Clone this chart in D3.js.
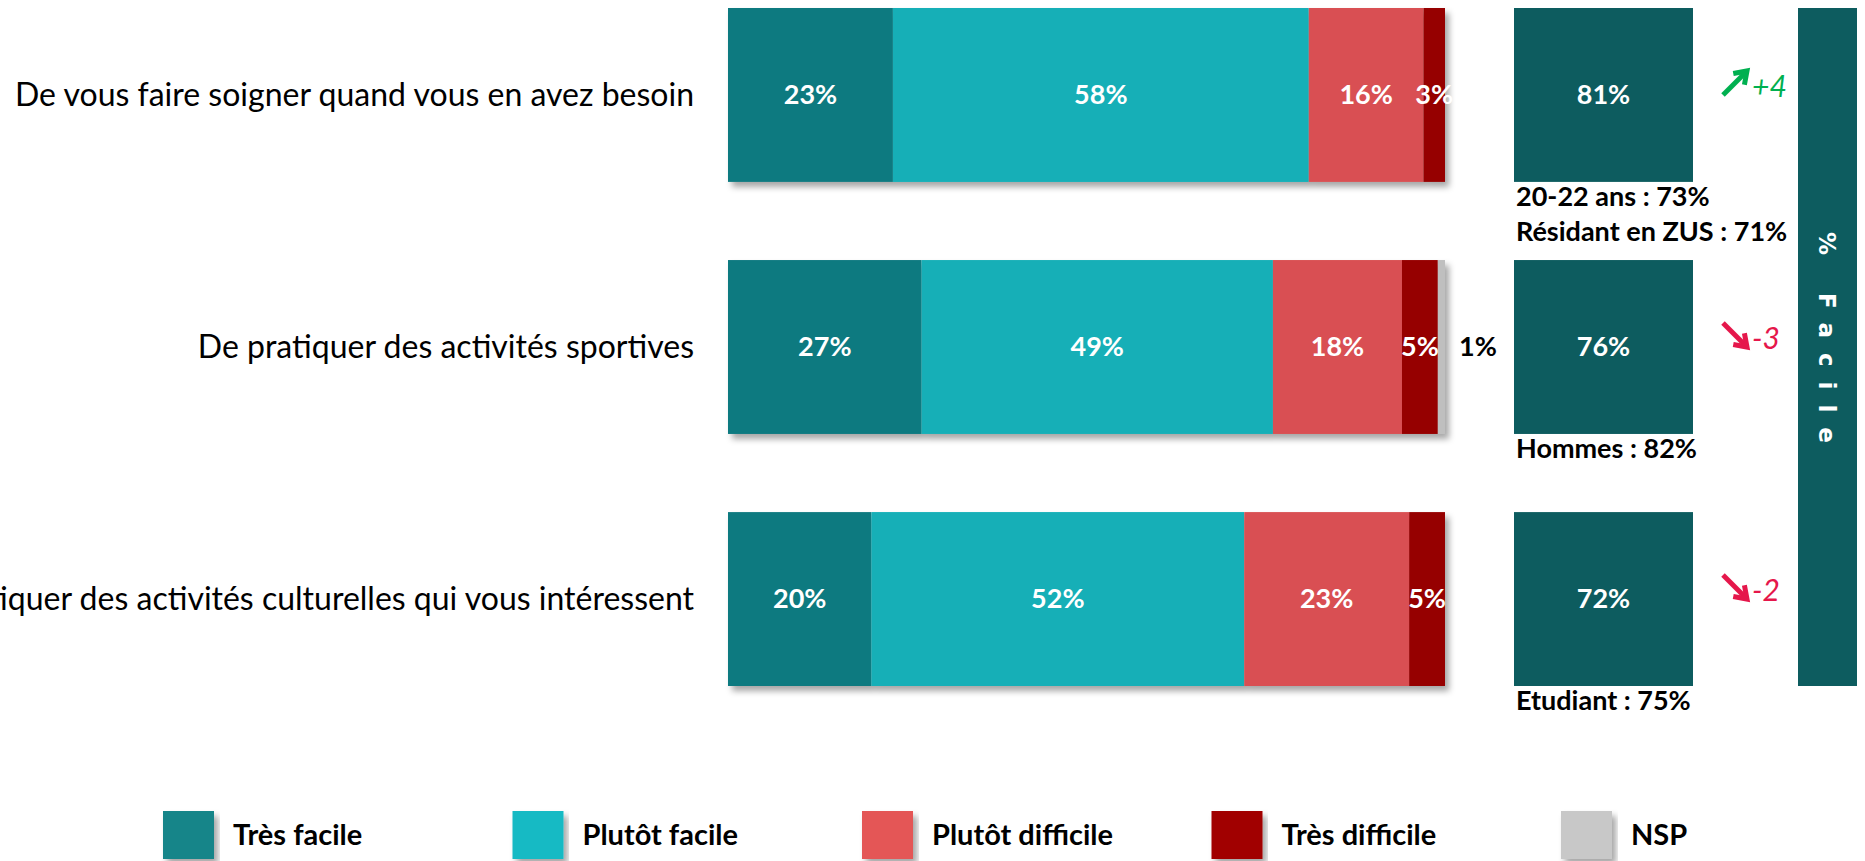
<!DOCTYPE html>
<html>
<head>
<meta charset="utf-8">
<script src="https://cdn.jsdelivr.net/npm/d3@7/dist/d3.min.js"></script>
<style>
  body { margin: 0; background: #fff; }
  svg text { font-family: Lato, "Open Sans", sans-serif; }
</style>
</head>
<body>
<svg id="chart"></svg>
<script>
// data
const categories = [
    "De vous faire soigner quand vous en avez besoin",
    "De pratiquer des activités sportives",
    "De pratiquer des activités culturelles qui vous intéressent"
];
const series = ["Très facile", "Plutôt facile", "Plutôt difficile", "Très difficile", "NSP"];
const tresFacile = [23, 27, 20];
const plutotFacile = [58, 49, 52];
const plutotDifficile = [16, 18, 23];
const tresDifficile = [3, 5, 5];
const nsp = [0, 1, 0];
const totalFacile = [81, 76, 72];
const evolution = [4, -3, -2];
const notes = [["20-22 ans : 73%", "Résidant en ZUS : 71%"], ["Hommes : 82%"], ["Etudiant : 75%"]];

const barColors = ["#0F7A80", "#13AFB7", "#D94F52", "#960000", "#BFBFBF"];
const legendColors = ["#138589", "#17BAC4", "#E45656", "#A10505", "#C8C8C8"];
const boxColor = "#0D5C5F";

var width = 1865, height = 861;

var svg = d3.select("#chart")
    .attr("width", width)
    .attr("height", height);

// soft shadow like the office export
var defs = svg.append("defs");
defs.append("filter")
    .attr("id", "shadow")
    .attr("x", "-5%").attr("y", "-5%")
    .attr("width", "115%").attr("height", "120%")
    .append("feDropShadow")
    .attr("dx", 4).attr("dy", 5)
    .attr("stdDeviation", 3)
    .attr("flood-color", "#000")
    .attr("flood-opacity", 0.35);

// rows for the stack
var rows = categories.map((c, i) => ({
    cat: c,
    "Très facile": tresFacile[i],
    "Plutôt facile": plutotFacile[i],
    "Plutôt difficile": plutotDifficile[i],
    "Très difficile": tresDifficile[i],
    "NSP": nsp[i]
}));

var stack = d3.stack().keys(series);
var stacked = stack(rows);

var x = d3.scaleLinear().domain([0, 100]).range([728, 1445]);
var y = d3.scaleBand().domain(categories).range([8, 686]).paddingInner(0.31);
var color = d3.scaleOrdinal().domain(series).range(barColors);

// category labels on the left
svg.append("g").selectAll("text")
    .data(categories)
    .join("text")
    .attr("x", 694)
    .attr("y", d => y(d) + y.bandwidth() / 2)
    .attr("dy", "0.35em")
    .attr("text-anchor", "end")
    .style("font-size", "32px")
    .style("fill", "#000")
    .text(d => d);

// stacked bars, one group per category so the shadow goes round the whole bar
var bars = svg.append("g").selectAll("g")
    .data(rows)
    .join("g")
    .attr("filter", "url(#shadow)");

bars.selectAll("rect")
    .data((d, i) => stacked.map(s => ({key: s.key, v0: s[i][0], v1: s[i][1], cat: d.cat})))
    .join("rect")
    .attr("x", d => x(d.v0))
    .attr("y", d => y(d.cat))
    .attr("width", d => x(d.v1) - x(d.v0))
    .attr("height", y.bandwidth())
    .attr("fill", d => color(d.key));

// segment labels
var segs = [];
stacked.forEach(s => s.forEach((p, i) => segs.push({key: s.key, v0: p[0], v1: p[1], cat: categories[i]})));

svg.append("g").selectAll("text")
    .data(segs.filter(d => d.v1 - d.v0 > 0))
    .join("text")
    .attr("x", d => (d.v1 - d.v0) >= 2 ? (x(d.v0) + x(d.v1)) / 2 : x(d.v1) + 14)
    .attr("y", d => y(d.cat) + y.bandwidth() / 2)
    .attr("dy", "0.35em")
    .attr("text-anchor", d => (d.v1 - d.v0) >= 2 ? "middle" : "start")
    .style("font-size", "27px")
    .style("font-weight", "bold")
    .style("fill", d => (d.v1 - d.v0) >= 2 ? "#fff" : "#000")
    .text(d => (d.v1 - d.v0) + "%");

// total "% facile" boxes
var boxX = 1514, boxW = 179;
var boxes = svg.append("g").selectAll("g")
    .data(categories)
    .join("g");

boxes.append("rect")
    .attr("x", boxX)
    .attr("y", d => y(d))
    .attr("width", boxW)
    .attr("height", y.bandwidth())
    .attr("fill", boxColor);

boxes.append("text")
    .attr("x", boxX + boxW / 2)
    .attr("y", d => y(d) + y.bandwidth() / 2)
    .attr("dy", "0.35em")
    .attr("text-anchor", "middle")
    .style("font-size", "27px")
    .style("font-weight", "bold")
    .style("fill", "#fff")
    .text((d, i) => totalFacile[i] + "%");

// sub-group notes under each box
boxes.each(function(d, i) {
    d3.select(this).selectAll("text.note")
        .data(notes[i])
        .join("text")
        .attr("class", "note")
        .attr("x", boxX + 2)
        .attr("y", (n, j) => y(d) + y.bandwidth() + 24 + j * 35)
        .style("font-size", "27px")
        .style("font-weight", "bold")
        .style("fill", "#000")
        .text(n => n);
});

// evolution arrows
var evo = svg.append("g").selectAll("g")
    .data(categories)
    .join("g")
    .attr("transform", d => `translate(1723,${y(d) + y.bandwidth() / 2})`);

evo.each(function(d, i) {
    var g = d3.select(this);
    var up = evolution[i] > 0;
    var col = up ? "#00B050" : "#E5174B";
    var y0 = up ? 0 : -24, y1 = up ? -24 : 0;
    // shaft
    g.append("line")
        .attr("x1", 0).attr("y1", y0)
        .attr("x2", 24).attr("y2", y1)
        .attr("stroke", col)
        .attr("stroke-width", 5);
    // head
    var ang = Math.atan2(y1 - y0, 24);
    var hl = 14;
    var p = d3.path();
    p.moveTo(24 - hl * Math.cos(ang - 0.6), y1 - hl * Math.sin(ang - 0.6));
    p.lineTo(24, y1);
    p.lineTo(24 - hl * Math.cos(ang + 0.6), y1 - hl * Math.sin(ang + 0.6));
    g.append("path")
        .attr("d", p.toString())
        .attr("fill", "none")
        .attr("stroke", col)
        .attr("stroke-width", 5)
        .attr("stroke-linejoin", "miter");
    g.append("text")
        .attr("x", 29)
        .attr("y", 2)
        .style("font-size", "30px")
        .style("font-style", "italic")
        .style("fill", col)
        .text((up ? "+" : "") + evolution[i]);
});

// vertical "% Facile" band
var band = svg.append("g");
band.append("rect")
    .attr("x", 1798)
    .attr("y", y.range()[0])
    .attr("width", 59)
    .attr("height", y.range()[1] - y.range()[0])
    .attr("fill", boxColor);
band.append("text")
    .attr("transform", `translate(1827,345) rotate(90)`)
    .attr("text-anchor", "middle")
    .attr("dy", "0.35em")
    .style("font-family", "'DejaVu Sans', Verdana, sans-serif")
    .style("font-size", "23px")
    .style("font-weight", "bold")
    .style("letter-spacing", "15px")
    .style("fill", "#fff")
    .text("% Facile");

// legend
var legend = svg.append("g").selectAll("g")
    .data(series)
    .join("g")
    .attr("transform", (d, i) => `translate(${163 + i * 349.5},811)`);

legend.append("rect")
    .attr("width", 51)
    .attr("height", 48)
    .attr("fill", (d, i) => legendColors[i])
    .attr("filter", "url(#shadow)");

legend.append("text")
    .attr("x", 70)
    .attr("y", 34)
    .style("font-size", "29px")
    .style("font-weight", "bold")
    .style("fill", "#000")
    .text(d => d);
</script>
</body>
</html>
